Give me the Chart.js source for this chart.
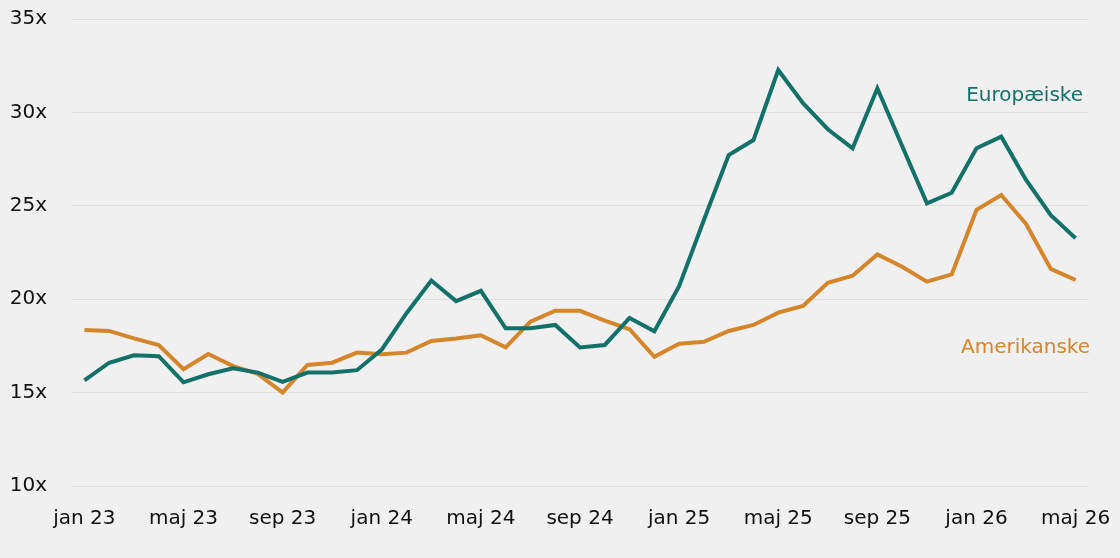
<!DOCTYPE html>
<html lang="da">
<head>
    <meta charset="UTF-8">
    <title>Europæiske vs Amerikanske</title>
    <script src="https://cdn.jsdelivr.net/npm/chart.js"></script>
    <style>
        html, body { margin: 0; padding: 0; background: #f0f0f0; }
        #wrap { width: 1120px; height: 558px; }
    </style>
</head>
<body>
    <div id="wrap">
        <canvas id="lineChart" width="1120" height="558"></canvas>
    </div>

    <script>
        // months jan 23 .. maj 26
        var months = ['jan 23','feb 23','mar 23','apr 23','maj 23','jun 23','jul 23','aug 23','sep 23','okt 23','nov 23','dec 23',
                      'jan 24','feb 24','mar 24','apr 24','maj 24','jun 24','jul 24','aug 24','sep 24','okt 24','nov 24','dec 24',
                      'jan 25','feb 25','mar 25','apr 25','maj 25','jun 25','jul 25','aug 25','sep 25','okt 25','nov 25','dec 25',
                      'jan 26','feb 26','mar 26','apr 26','maj 26'];

        var europaeiske = [15.65, 16.6, 17.0, 16.95, 15.55, 15.98, 16.3, 16.07, 15.57, 16.07, 16.07, 16.2,
                           17.3, 19.25, 21.0, 19.9, 20.45, 18.44, 18.44, 18.62, 17.42, 17.55, 19.0, 18.28,
                           20.7, 24.24, 27.72, 28.52, 32.27, 30.49, 29.1, 28.08, 31.29, 28.2, 25.13, 25.7,
                           28.08, 28.7, 26.38, 24.5, 23.26];

        var amerikanske = [18.35, 18.3, 17.9, 17.55, 16.25, 17.07, 16.42, 16.0, 15.0, 16.48, 16.6, 17.14,
                           17.05, 17.14, 17.76, 17.9, 18.07, 17.42, 18.8, 19.38, 19.38, 18.85, 18.39, 16.92,
                           17.62, 17.72, 18.3, 18.62, 19.28, 19.64, 20.88, 21.26, 22.4, 21.74, 20.94, 21.33,
                           24.78, 25.58, 24.03, 21.62, 21.03];

        var yTicks = [10, 15, 20, 25, 30, 35];

        var teal = '#13716a';
        var orange = '#d5862a';

        // series names written next to the lines
        var seriesLabels = {
            id: 'seriesLabels',
            afterDatasetsDraw: function (chart) {
                var c = chart.ctx;
                var y = chart.scales.y;
                c.save();
                c.font = '20px "DejaVu Sans"';
                c.textAlign = 'right';
                c.textBaseline = 'middle';
                c.fillStyle = teal;
                c.fillText('Europæiske', chart.chartArea.right - 5, y.getPixelForValue(30.9));
                c.fillStyle = orange;
                c.fillText('Amerikanske', chart.chartArea.right + 2, y.getPixelForValue(17.4));
                c.restore();
            }
        };

        var ctx = document.getElementById('lineChart').getContext('2d');
        var lineChart = new Chart(ctx, {
            type: 'line',
            data: {
                labels: months,
                datasets: [
                    {
                        label: 'Europæiske',
                        data: europaeiske,
                        borderColor: teal,
                        borderWidth: 4,
                        pointRadius: 0,
                        tension: 0,
                        fill: false
                    },
                    {
                        label: 'Amerikanske',
                        data: amerikanske,
                        borderColor: orange,
                        borderWidth: 4,
                        pointRadius: 0,
                        tension: 0,
                        fill: false
                    }
                ]
            },
            options: {
                responsive: false,
                animation: false,
                layout: { padding: { top: 19, right: 32, left: 8, bottom: 10 } },
                plugins: {
                    legend: { display: false },
                    tooltip: { enabled: false }
                },
                scales: {
                    x: {
                        offset: true,
                        grid: { display: false },
                        border: { display: false },
                        afterFit: function (axis) {
                            axis.height = 62;
                            axis.paddingLeft = 0;
                            axis.paddingRight = 0;
                        },
                        ticks: {
                            autoSkip: false,
                            maxRotation: 0,
                            padding: 13,
                            color: '#111',
                            font: { family: 'DejaVu Sans', size: 20 },
                            callback: function (v, i) { return i % 4 === 0 ? months[i] : ''; }
                        }
                    },
                    y: {
                        min: 10,
                        max: 35,
                        afterBuildTicks: function (axis) {
                            axis.ticks = yTicks.map(function (v) { return { value: v }; });
                        },
                        afterFit: function (axis) {
                            axis.width = 64;
                            axis.paddingTop = 0;
                            axis.paddingBottom = 0;
                        },
                        grid: { color: '#dedede', lineWidth: 1, drawTicks: false },
                        border: { display: false },
                        ticks: {
                            padding: 25,
                            color: '#111',
                            font: { family: 'DejaVu Sans', size: 20 },
                            callback: function (v) { return v + 'x'; }
                        }
                    }
                }
            },
            plugins: [seriesLabels]
        });
    </script>
</body>
</html>
